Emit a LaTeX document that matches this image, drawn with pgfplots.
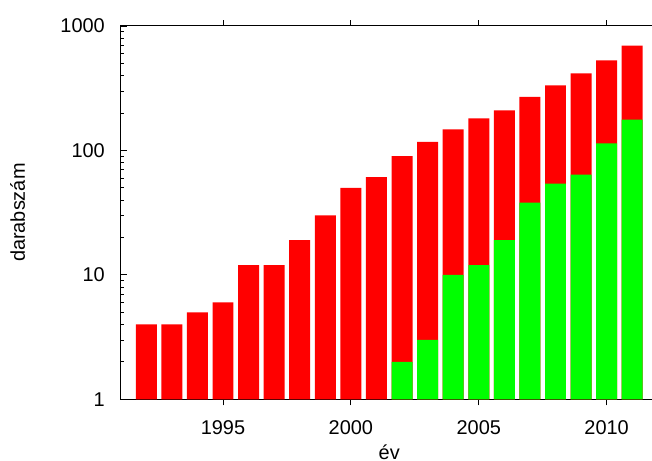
\documentclass[border=0pt]{standalone}
\usepackage{fontspec}
\setmainfont{Liberation Sans}
\usepackage{pgfplots}
\pgfplotsset{compat=1.18}

\definecolor{barred}{RGB}{255,0,0}
\definecolor{bargreen}{RGB}{0,255,0}

\begin{document}
\begin{tikzpicture}
\begin{axis}[
  at={(0,0)}, anchor=south west,
  scale only axis, width=537.1bp, height=373.3bp,
  xmin=1991, xmax=2012,
  ymode=log, ymin=1, ymax=1000,
  xtick={1995,2000,2005,2010},
  xticklabels={1995,2000,2005,2010},
  ytick={1,10,100,1000},
  yticklabels={1,10,100,1000},
  minor x tick num=0,
  tick align=inside,
  major tick length=6bp, minor tick length=3bp,
  every tick/.style={black, line width=0.8bp},
  axis line style={black, line width=1bp},
  tick label style={font=\fontsize{20}{24}\selectfont, inner sep=0pt},
  xticklabel style={anchor=base, yshift=-29.3bp},
  yticklabel style={anchor=east, xshift=-15.7bp},
  label style={font=\fontsize{20}{24}\selectfont},
  xlabel={év},
  xlabel style={at={(axis description cs:0.5,0)}, anchor=base, yshift=-60bp},
  ylabel={darabszám},
  ylabel style={at={(axis description cs:-0.1918,0.5)}, anchor=center},
  ybar, bar width=0.82, bar shift=0pt,
]
% total count per year
\addplot[fill=barred, draw=none] coordinates {
  (1992,4) (1993,4) (1994,5) (1995,6) (1996,12) (1997,12) (1998,19)
  (1999,30) (2000,50) (2001,61) (2002,90) (2003,117) (2004,148)
  (2005,181) (2006,210) (2007,270) (2008,333) (2009,416) (2010,529)
  (2011,695)
};
% subset, drawn over the totals
\addplot[fill=bargreen, draw=none] coordinates {
  (2002,2) (2003,3) (2004,10) (2005,12) (2006,19) (2007,38)
  (2008,54) (2009,64) (2010,114) (2011,177)
};
\end{axis}
\pgfresetboundingbox
\useasboundingbox (-120.7bp,-61bp) rectangle (531.3bp,399.3bp);
\end{tikzpicture}
\end{document}
